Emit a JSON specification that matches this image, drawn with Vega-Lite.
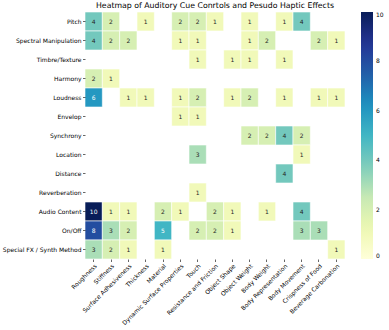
{
  "$schema": "https://vega.github.io/schema/vega-lite/v6.json",
  "autosize": "none",
  "padding": {"left": 85, "top": 12, "right": 44, "bottom": 71},
  "width": 260,
  "height": 247,
  "background": "white",
  "title": {"text": "Heatmap of Auditory Cue Conrtols and Pesudo Haptic Effects", "font": "DejaVu Sans", "fontSize": 7.8, "fontWeight": "normal", "color": "#000000", "offset": 2, "anchor": "middle"},
  "config": {"view": {"stroke": null}, "font": "DejaVu Sans"},
  "data": {"values": [
    {"r": "Pitch", "c": "Roughness", "v": 4},
    {"r": "Pitch", "c": "Stiffness", "v": 2},
    {"r": "Pitch", "c": "Thickness", "v": 1},
    {"r": "Pitch", "c": "Dynamic Surface Properties", "v": 2},
    {"r": "Pitch", "c": "Touch", "v": 2},
    {"r": "Pitch", "c": "Resistance and Friction", "v": 1},
    {"r": "Pitch", "c": "Object Weight", "v": 1},
    {"r": "Pitch", "c": "Body Representation", "v": 1},
    {"r": "Pitch", "c": "Body Movement", "v": 4},
    {"r": "Spectral Manipulation", "c": "Roughness", "v": 4},
    {"r": "Spectral Manipulation", "c": "Stiffness", "v": 2},
    {"r": "Spectral Manipulation", "c": "Surface Adhesiveness", "v": 2},
    {"r": "Spectral Manipulation", "c": "Dynamic Surface Properties", "v": 1},
    {"r": "Spectral Manipulation", "c": "Touch", "v": 1},
    {"r": "Spectral Manipulation", "c": "Object Weight", "v": 1},
    {"r": "Spectral Manipulation", "c": "Body Weight", "v": 2},
    {"r": "Spectral Manipulation", "c": "Crispness of Food", "v": 2},
    {"r": "Spectral Manipulation", "c": "Beverage Carbonation", "v": 1},
    {"r": "Timbre/Texture", "c": "Touch", "v": 1},
    {"r": "Timbre/Texture", "c": "Object Shape", "v": 1},
    {"r": "Timbre/Texture", "c": "Object Weight", "v": 1},
    {"r": "Timbre/Texture", "c": "Body Representation", "v": 1},
    {"r": "Harmony", "c": "Roughness", "v": 2},
    {"r": "Harmony", "c": "Stiffness", "v": 1},
    {"r": "Loudness", "c": "Roughness", "v": 6},
    {"r": "Loudness", "c": "Surface Adhesiveness", "v": 1},
    {"r": "Loudness", "c": "Thickness", "v": 1},
    {"r": "Loudness", "c": "Dynamic Surface Properties", "v": 1},
    {"r": "Loudness", "c": "Touch", "v": 2},
    {"r": "Loudness", "c": "Object Shape", "v": 1},
    {"r": "Loudness", "c": "Object Weight", "v": 2},
    {"r": "Loudness", "c": "Body Representation", "v": 1},
    {"r": "Loudness", "c": "Crispness of Food", "v": 1},
    {"r": "Loudness", "c": "Beverage Carbonation", "v": 1},
    {"r": "Envelop", "c": "Dynamic Surface Properties", "v": 1},
    {"r": "Envelop", "c": "Touch", "v": 1},
    {"r": "Synchrony", "c": "Object Weight", "v": 2},
    {"r": "Synchrony", "c": "Body Weight", "v": 2},
    {"r": "Synchrony", "c": "Body Representation", "v": 4},
    {"r": "Synchrony", "c": "Body Movement", "v": 2},
    {"r": "Location", "c": "Touch", "v": 3},
    {"r": "Location", "c": "Body Movement", "v": 1},
    {"r": "Distance", "c": "Body Representation", "v": 4},
    {"r": "Reverberation", "c": "Touch", "v": 1},
    {"r": "Audio Content", "c": "Roughness", "v": 10},
    {"r": "Audio Content", "c": "Stiffness", "v": 1},
    {"r": "Audio Content", "c": "Surface Adhesiveness", "v": 1},
    {"r": "Audio Content", "c": "Material", "v": 2},
    {"r": "Audio Content", "c": "Dynamic Surface Properties", "v": 1},
    {"r": "Audio Content", "c": "Resistance and Friction", "v": 2},
    {"r": "Audio Content", "c": "Object Shape", "v": 1},
    {"r": "Audio Content", "c": "Body Weight", "v": 1},
    {"r": "Audio Content", "c": "Body Movement", "v": 4},
    {"r": "On/Off", "c": "Roughness", "v": 8},
    {"r": "On/Off", "c": "Stiffness", "v": 3},
    {"r": "On/Off", "c": "Surface Adhesiveness", "v": 2},
    {"r": "On/Off", "c": "Material", "v": 5},
    {"r": "On/Off", "c": "Touch", "v": 2},
    {"r": "On/Off", "c": "Resistance and Friction", "v": 2},
    {"r": "On/Off", "c": "Object Shape", "v": 1},
    {"r": "On/Off", "c": "Body Movement", "v": 3},
    {"r": "On/Off", "c": "Crispness of Food", "v": 3},
    {"r": "Special FX / Synth Method", "c": "Roughness", "v": 3},
    {"r": "Special FX / Synth Method", "c": "Stiffness", "v": 2},
    {"r": "Special FX / Synth Method", "c": "Surface Adhesiveness", "v": 1},
    {"r": "Special FX / Synth Method", "c": "Material", "v": 1},
    {"r": "Special FX / Synth Method", "c": "Beverage Carbonation", "v": 1}
  ]},
  "encoding": {
    "x": {"field": "c", "type": "nominal", "title": null,
      "scale": {"domain": ["Roughness", "Stiffness", "Surface Adhesiveness", "Thickness", "Material", "Dynamic Surface Properties", "Touch", "Resistance and Friction", "Object Shape", "Object Weight", "Body Weight", "Body Representation", "Body Movement", "Crispness of Food", "Beverage Carbonation"], "paddingInner": 0, "paddingOuter": 0},
      "axis": {"labelAngle": -45, "labelFontSize": 6, "labelColor": "#000000", "domain": false, "tickColor": "#000000", "tickSize": 2.5, "tickWidth": 0.6, "labelPadding": 1, "labelFont": "DejaVu Sans"}},
    "y": {"field": "r", "type": "nominal", "title": null,
      "scale": {"domain": ["Pitch", "Spectral Manipulation", "Timbre/Texture", "Harmony", "Loudness", "Envelop", "Synchrony", "Location", "Distance", "Reverberation", "Audio Content", "On/Off", "Special FX / Synth Method"], "paddingInner": 0, "paddingOuter": 0},
      "axis": {"labelFontSize": 6, "labelColor": "#000000", "domain": false, "tickColor": "#000000", "tickSize": 2.5, "tickWidth": 0.6, "labelPadding": 1.5, "labelFont": "DejaVu Sans"}}
  },
  "layer": [
    {"mark": {"type": "rect", "stroke": "white", "strokeWidth": 0.6},
     "encoding": {"color": {"field": "v", "type": "quantitative",
       "scale": {"domain": [0, 10], "range": ["#ffffd9", "#edf8b1", "#c7e9b4", "#7fcdbb", "#41b6c4", "#1d91c0", "#225ea8", "#253494", "#081d58"], "interpolate": "rgb"},
       "legend": {"title": null, "orient": "none", "legendX": 276, "legendY": 0, "direction": "vertical", "gradientLength": 247, "gradientThickness": 12, "gradientStrokeWidth": 0, "values": [0, 2, 4, 6, 8, 10], "labelFontSize": 6, "labelColor": "#000000", "labelFont": "DejaVu Sans", "labelOffset": 3}}}},
    {"mark": {"type": "text", "fontSize": 6, "font": "DejaVu Sans"},
     "encoding": {"text": {"field": "v", "type": "quantitative"},
       "color": {"condition": {"test": "datum.v >= 5", "value": "#ffffff"}, "value": "#262626"}}}
  ]
}
